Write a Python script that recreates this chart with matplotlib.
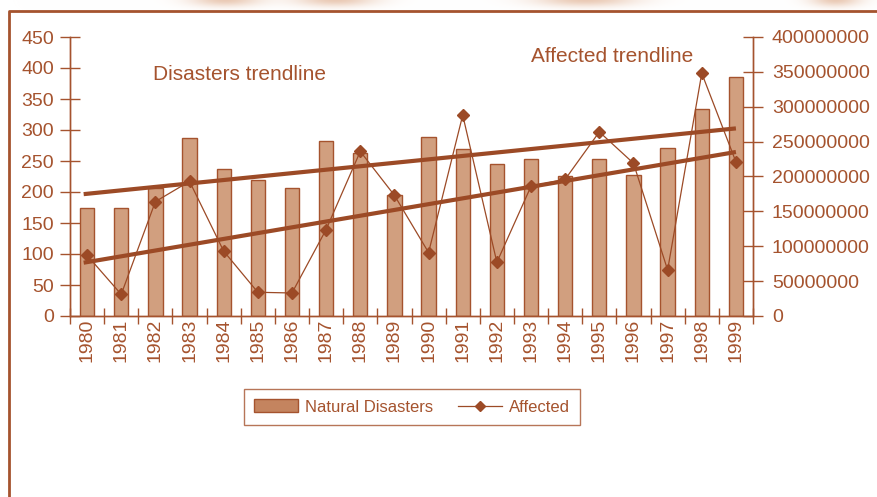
import numpy as np
import matplotlib.pyplot as plt
from matplotlib.lines import Line2D
from matplotlib.patches import Patch

plt.rcParams['font.family'] = ['Liberation Sans', 'DejaVu Sans']

years = [str(y) for y in range(1980, 2000)]
disasters = [175, 175, 206, 287, 237, 219, 206, 282, 263, 195,
             289, 269, 245, 253, 226, 253, 227, 271, 334, 385]
affected = [87e6, 31e6, 164e6, 193e6, 93e6, 34e6, 33e6, 124e6, 236e6, 173e6,
            91e6, 288e6, 77e6, 186e6, 196e6, 264e6, 219e6, 66e6, 348e6, 221e6]

TXT = '#a5532e'
BAR = '#d19f7f'
LINE = '#9c4a26'

fig = plt.figure(figsize=(8.78, 4.97), dpi=100)

# faint decorative blobs along the top edge
h, w = 14, 878
yy, xx = np.mgrid[0:h, 0:w]
glow = np.zeros((h, w))
for cx, sx in [(225, 35), (335, 40), (585, 50), (835, 25)]:
    glow += np.exp(-((xx - cx) / sx) ** 2) * np.exp(-((yy + 1) / 7.0) ** 2)
glow = np.clip(glow, 0, 1) * 0.55
rgb = np.ones((h, w, 3))
base = np.array([0.85, 0.62, 0.47])
img = rgb * (1 - glow[..., None]) + base * glow[..., None]
fig.figimage(img, xo=0, yo=497 - h, origin='upper', zorder=0)

# outer frame (left + top edges)
fig.add_artist(Line2D([9 / 878, 9 / 878, 1.0], [0.0, 1 - 11 / 497, 1 - 11 / 497],
                      transform=fig.transFigure, color=TXT, lw=2))

ax = fig.add_axes([70 / 878, 1 - 316 / 497, (753 - 70) / 878, (316 - 37) / 497])
ax2 = ax.twinx()

x = np.arange(len(years))
ax.bar(x, disasters, width=0.42, color=BAR, edgecolor=TXT, linewidth=1, zorder=2)
ax2.plot(x, affected, color=LINE, lw=0.9, marker='D', markersize=6, zorder=3)

# linear trendlines
xt = np.array([-0.1, 19.0])
p1 = np.polyfit(x, disasters, 1)
p2 = np.polyfit(x, affected, 1)
ax.plot(xt, np.polyval(p1, xt), color=LINE, lw=3, zorder=4, solid_capstyle='butt')
ax2.plot(xt, np.polyval(p2, xt), color=LINE, lw=3, zorder=4, solid_capstyle='butt')

ax.set_xlim(-0.5, 19.5)
ax.set_ylim(0, 450)
ax2.set_ylim(0, 400e6)
ax.set_yticks(range(0, 451, 50))
ax2.set_yticks(np.arange(0, 400e6 + 1, 50e6))
ax2.set_yticklabels([str(int(v)) for v in np.arange(0, 400e6 + 1, 50e6)])

ax.set_xticks(x)
ax.set_xticklabels(years, rotation=90)
ax.set_xticks(np.arange(-0.5, 20, 1), minor=True)
ax.tick_params(axis='x', which='major', length=0, pad=2, labelsize=14, labelcolor=TXT)
ax.tick_params(axis='x', which='minor', direction='inout', length=12, color=TXT, width=1)
ax.tick_params(axis='y', direction='inout', length=15, color=TXT, width=1,
               labelsize=14, labelcolor=TXT, pad=4)
ax2.tick_params(axis='y', direction='inout', length=15, color=TXT, width=1,
                labelsize=14, labelcolor=TXT, pad=6)

for a in (ax, ax2):
    a.spines['top'].set_visible(False)
    for s in ('left', 'right', 'bottom'):
        a.spines[s].set_color(TXT)
        a.spines[s].set_linewidth(1)
    a.patch.set_visible(False)

ax.text(1.93, 390, 'Disasters trendline', fontsize=15, color=TXT, va='center', ha='left')
ax.text(13.0, 418, 'Affected trendline', fontsize=15, color=TXT, va='center', ha='left')

handles = [Patch(facecolor='#c4845f', edgecolor=TXT, linewidth=1),
           Line2D([0], [0], color=LINE, lw=0.9, marker='D', markersize=5)]
leg = fig.legend(handles, ['Natural Disasters', 'Affected'], loc='center',
                 bbox_to_anchor=(412 / 878, 1 - 407 / 497), ncol=2, fontsize=12,
                 frameon=True, fancybox=False, edgecolor=TXT, labelcolor=TXT,
                 handlelength=2.65, handleheight=0.8, handletextpad=0.4,
                 columnspacing=1.5, borderpad=0.6)
leg.get_frame().set_linewidth(1)

fig.savefig('out.png', dpi=100)
